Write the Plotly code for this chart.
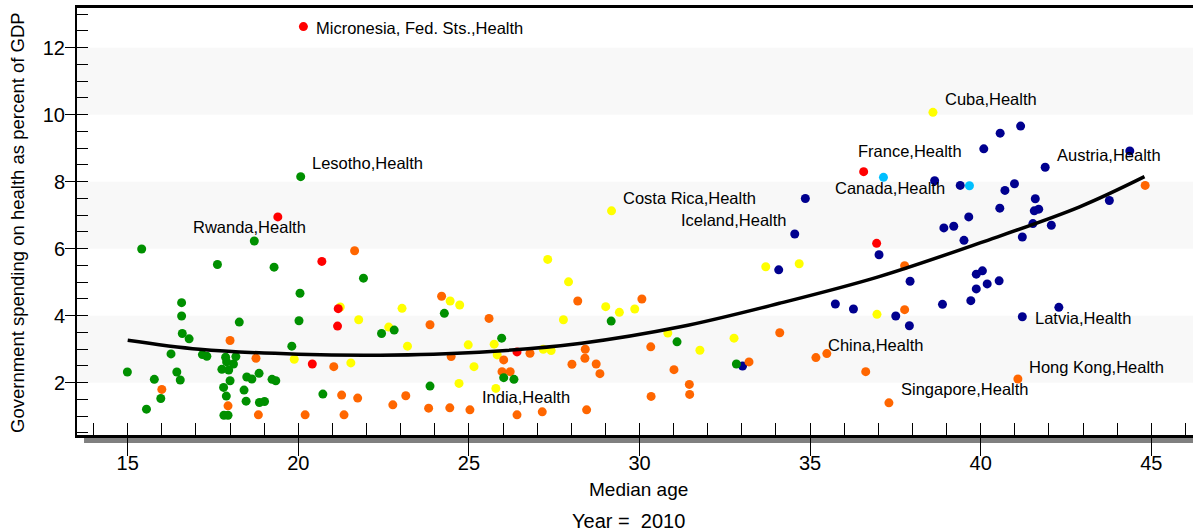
import plotly.graph_objects as go

FONT = "Liberation Sans, Arial, sans-serif"

# ---- data (median age, government health spending % GDP) ----
navy_x = [33.02, 34.08, 34.55, 34.86, 35.74, 36.27, 37.02, 37.51, 37.91, 37.93, 38.65, 38.88, 38.92, 39.21,
          39.40, 39.51, 39.65, 39.71, 39.87, 39.87, 40.05, 40.09, 40.19, 40.54, 40.56, 40.57, 40.71, 40.99,
          41.17, 41.22, 41.22, 41.53, 41.57, 41.60, 41.70, 41.89, 42.07, 42.29, 43.77, 44.37]
navy_y = [2.50, 5.37, 6.44, 7.50, 4.35, 4.20, 5.82, 3.99, 3.70, 5.03, 8.03, 4.34, 6.62, 6.67,
          7.89, 6.25, 6.95, 4.45, 5.24, 4.80, 5.34, 8.98, 4.95, 5.04, 7.21, 9.45, 7.74, 7.94,
          9.66, 6.35, 3.97, 6.75, 7.13, 7.49, 7.18, 8.43, 6.70, 4.25, 7.44, 8.92]

lightblue_x = [37.15, 39.67]
lightblue_y = [8.13, 7.88]

yellow_x = [19.88, 21.23, 21.54, 21.77, 22.65, 23.04, 23.20, 24.45, 24.71, 24.73, 24.98, 25.15, 25.74,
            25.79, 25.83, 27.18, 27.31, 27.41, 27.77, 27.92, 29.01, 29.18, 29.41, 29.86, 30.83, 31.77,
            32.77, 33.70, 34.68, 36.96, 38.60]
yellow_y = [2.70, 4.26, 2.59, 3.88, 3.66, 4.22, 3.09, 4.44, 1.98, 4.32, 3.13, 2.48, 3.15,
            1.83, 2.83, 3.00, 5.68, 2.96, 3.88, 5.01, 4.27, 7.13, 4.10, 4.20, 3.48, 2.97,
            3.33, 5.46, 5.55, 4.04, 10.07]

orange_x = [16.00, 17.94, 18.00, 18.76, 18.83, 20.20, 21.04, 21.27, 21.34, 21.65, 21.74, 22.77, 23.15,
            23.82, 23.86, 24.20, 24.44, 24.48, 25.03, 25.59, 26.02, 25.97, 26.21, 26.41, 26.79, 27.15,
            28.02, 28.19, 28.40, 28.41, 28.45, 28.73, 28.84, 30.07, 30.33, 30.34, 31.01, 31.46, 31.47,
            33.21, 34.11, 35.17, 35.49, 36.63, 37.31, 37.77, 37.77, 41.09, 44.82]
orange_y = [1.80, 1.31, 3.26, 2.73, 1.04, 1.04, 2.48, 1.63, 1.04, 5.94, 1.54, 1.34, 1.61,
            1.24, 3.73, 4.58, 1.25, 2.78, 1.19, 3.92, 2.68, 2.33, 2.33, 1.04, 2.88, 1.13,
            2.55, 4.44, 2.73, 3.00, 1.19, 2.56, 2.27, 4.50, 3.07, 1.59, 2.39, 1.95, 1.65,
            2.62, 3.49, 2.75, 2.87, 2.33, 1.40, 5.49, 4.18, 2.11, 7.89]

green_x = [14.99, 15.41, 15.55, 15.78, 15.97, 16.27, 16.44, 16.54, 16.58, 16.58, 16.60, 16.80, 17.19,
           17.32, 17.63, 17.87, 18.17, 17.90, 18.10, 17.76, 17.96, 18.00, 17.81, 17.89, 17.82, 17.94,
           18.27, 18.41, 18.47, 18.49, 18.64, 18.71, 18.85, 18.86, 19.01, 19.23, 19.34, 19.29, 19.81,
           20.02, 20.05, 20.07, 20.72, 21.91, 22.44, 22.81, 23.86, 24.28, 25.96, 26.02, 26.32, 29.17,
           31.10, 32.84]
green_y = [2.32, 5.99, 1.21, 2.10, 1.53, 2.86, 2.32, 2.08, 4.39, 3.99, 3.47, 3.31, 2.84,
           2.79, 5.53, 2.76, 2.78, 2.62, 2.56, 2.40, 2.38, 2.06, 1.86, 1.60, 1.03, 1.03,
           3.81, 1.78, 1.45, 2.17, 2.11, 6.23, 2.28, 1.41, 1.44, 2.10, 2.06, 5.45, 3.09,
           3.85, 4.67, 8.15, 1.66, 5.12, 3.47, 3.57, 1.90, 4.07, 3.33, 2.15, 2.10, 3.84,
           3.22, 2.56]

red_x = [20.15, 19.40, 20.69, 21.17, 21.15, 20.41, 26.41, 36.57, 36.95]
red_y = [12.63, 6.95, 5.62, 4.21, 3.69, 2.56, 2.92, 8.30, 6.16]

# fitted curve
fit_x = [15.0, 17.1, 20.0, 22.4, 25.3, 28.3, 31.2, 34.1, 37.0, 40.0, 42.9, 44.8]
fit_y = [3.27, 3.00, 2.85, 2.82, 2.91, 3.18, 3.67, 4.37, 5.16, 6.18, 7.25, 8.15]

# point labels
label_text = ["Micronesia, Fed. Sts.,Health", "Lesotho,Health", "Rwanda,Health", "Cuba,Health",
              "France,Health", "Austria,Health", "Canada,Health", "Costa Rica,Health", "Iceland,Health",
              "Latvia,Health", "China,Health", "Hong Kong,Health", "Singapore,Health", "India,Health"]
label_x = [20.46, 20.34, 16.85, 38.89, 36.35, 42.17, 35.68, 29.45, 31.17, 41.54, 35.47, 41.37, 37.61, 25.33]
label_y = [12.58, 8.55, 6.66, 10.46, 8.93, 8.80, 7.82, 7.50, 6.86, 3.92, 3.13, 2.48, 1.80, 1.56]

band_ranges = [(2, 4), (6, 8), (10, 12)]

X_RANGE = [13.514, 46.222]
Y_RANGE = [0.439, 13.185]

groups = [
    ("Europe", navy_x, navy_y, "#00008f"),
    ("North America", lightblue_x, lightblue_y, "#00bfff"),
    ("Latin America", yellow_x, yellow_y, "#ffff00"),
    ("Asia", orange_x, orange_y, "#ff6600"),
    ("Africa", green_x, green_y, "#009000"),
    ("Other", red_x, red_y, "#ff0000"),
]

fig = go.Figure()
for name, xs, ys, col in groups:
    fig.add_trace(go.Scatter(x=xs, y=ys, mode="markers", name=name,
                             marker=dict(size=9, color=col, line=dict(width=0)),
                             xaxis="x", yaxis="y", cliponaxis=False))

fig.add_trace(go.Scatter(x=fit_x, y=fit_y, mode="lines", name="fit",
                         line=dict(color="black", width=3.5, shape="spline", smoothing=1.0),
                         xaxis="x2", yaxis="y2"))

shapes = []
for lo, hi in band_ranges:
    shapes.append(dict(type="rect", xref="paper", yref="y", x0=0, x1=1, y0=lo, y1=hi,
                       fillcolor="#f8f8f8", line=dict(width=0), layer="below"))
# grey shadow bar under the x axis
shapes.append(dict(type="rect", xref="paper", yref="paper", x0=0.0063, x1=1.0, y0=-0.0187, y1=-0.0042,
                   fillcolor="#808080", line=dict(width=0), layer="below"))

annotations = []
for t, x, y in zip(label_text, label_x, label_y):
    annotations.append(dict(text=t, x=x, y=y, xref="x", yref="y", xanchor="left", yanchor="middle",
                            showarrow=False, font=dict(family=FONT, size=16.5, color="black")))

annotations.append(dict(text="Median age", x=0.5027, y=-0.1288, xref="paper", yref="paper",
                        xanchor="center", yanchor="middle", showarrow=False,
                        font=dict(family=FONT, size=19, color="black")))
annotations.append(dict(text="Year =\u00a0\u00a02010", x=0.4946, y=-0.2014, xref="paper", yref="paper",
                        xanchor="center", yanchor="middle", showarrow=False,
                        font=dict(family=FONT, size=20, color="black")))
annotations.append(dict(text="Government spending on health as percent of GDP", x=-0.0538, y=0.4988,
                        xref="paper", yref="paper", xanchor="center", yanchor="middle", textangle=-90,
                        showarrow=False, font=dict(family=FONT, size=18.5, color="black")))

common_off = dict(showline=False, showgrid=False, zeroline=False, showticklabels=False)

fig.update_layout(
    width=1193, height=531,
    margin=dict(l=77, r=0, t=8, b=96),
    plot_bgcolor="white", paper_bgcolor="white",
    showlegend=False,
    font=dict(family=FONT, color="black"),
    shapes=shapes, annotations=annotations,
    xaxis=dict(range=X_RANGE, tick0=0, dtick=5, ticks="outside", ticklen=18, tickwidth=1,
               tickcolor="black", showline=True, linecolor="black", linewidth=2.5, mirror=True,
               showgrid=False, zeroline=False, ticklabelstandoff=-10,
               tickfont=dict(family=FONT, size=20, color="black"),
               minor=dict(ticks="inside", ticklen=12, tick0=0, dtick=1, tickcolor="black", tickwidth=1)),
    yaxis=dict(range=Y_RANGE, tick0=0, dtick=2, ticks="outside", ticklen=10, tickwidth=1,
               tickcolor="black", showline=True, linecolor="black", linewidth=2, mirror=False,
               showgrid=False, zeroline=False, ticklabelstandoff=-4,
               tickfont=dict(family=FONT, size=20, color="black"),
               minor=dict(ticks="inside", ticklen=11, tick0=0, dtick=0.5, tickcolor="black", tickwidth=1)),
    xaxis2=dict(range=X_RANGE, overlaying="x", anchor="y2", side="bottom", tick0=0, dtick=5,
                ticks="inside", ticklen=12, tickwidth=1, tickcolor="black", **common_off),
    yaxis2=dict(range=Y_RANGE, overlaying="y", anchor="x2", side="left", tick0=0, dtick=2,
                ticks="inside", ticklen=11, tickwidth=1, tickcolor="black", **common_off),
)

fig.write_html("out.html", config={"displayModeBar": False},
               post_script="document.body.style.margin='0';document.body.style.overflow='hidden';")
